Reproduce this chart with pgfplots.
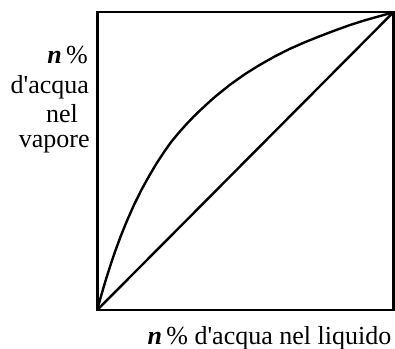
\documentclass[border=0pt]{standalone}
\usepackage{fontspec}
\setmainfont{Liberation Serif}
\usepackage{pgfplots}
\pgfplotsset{compat=1.18}

\begin{document}
\fontsize{13pt}{15pt}\selectfont
\begin{tikzpicture}
\begin{axis}[
  scale only axis, width=148pt, height=148.8pt,
  xmin=0, xmax=100, ymin=0, ymax=100,
  xtick=\empty, ytick=\empty,
  axis line style={line width=1.2pt},
  clip=false,
]
 % vapour composition vs liquid composition
 \addplot[black, line width=1.2pt, line join=round] coordinates {
  (0,0)(1,3.7)(2,7.2)(3,10.5)(4.5,15.2)(6,19.6)(8,25)(10,29.9)(12.5,35.5)
  (15,40.5)(17.5,45)(20,49.2)(22.5,53)(25,56.5)(27.5,59.5)(30,62.3)(32.5,64.9)
  (35,67.3)(37.5,69.6)(40,71.8)(45,75.8)
  (50,79.3)(55,82.4)(60,85.2)(65,87.7)(70,89.9)(75,91.9)(80,93.8)(85,95.6)
  (90,97.2)(95,98.6)(100,100)};
 % diagonal
 \addplot[black, line width=1.2pt] coordinates {(0,0)(100,100)};

 \node[anchor=base east, inner sep=0pt] at (rel axis cs:-0.0304,0.8287) {\textbf{\textit{n}}\,\%};
 \node[anchor=base east, inner sep=0pt] at (rel axis cs:-0.027,0.728) {d\textquotesingle acqua};
 \node[anchor=base east, inner sep=0pt] at (rel axis cs:-0.064,0.629) {nel};
 \node[anchor=base east, inner sep=0pt] at (rel axis cs:-0.0247,0.5465) {vapore};
 \node[anchor=base east, inner sep=0pt] at (rel axis cs:0.9946,-0.1176) {\textbf{\textit{n}}\,\% d\textquotesingle acqua nel liquido};

 \coordinate (bbl) at (rel axis cs:-0.3287,-0.131);
 \coordinate (bbr) at (rel axis cs:1.0057,1.0413);
\end{axis}
\pgfresetboundingbox
\path[use as bounding box] (bbl) rectangle (bbr);
\end{tikzpicture}
\end{document}
